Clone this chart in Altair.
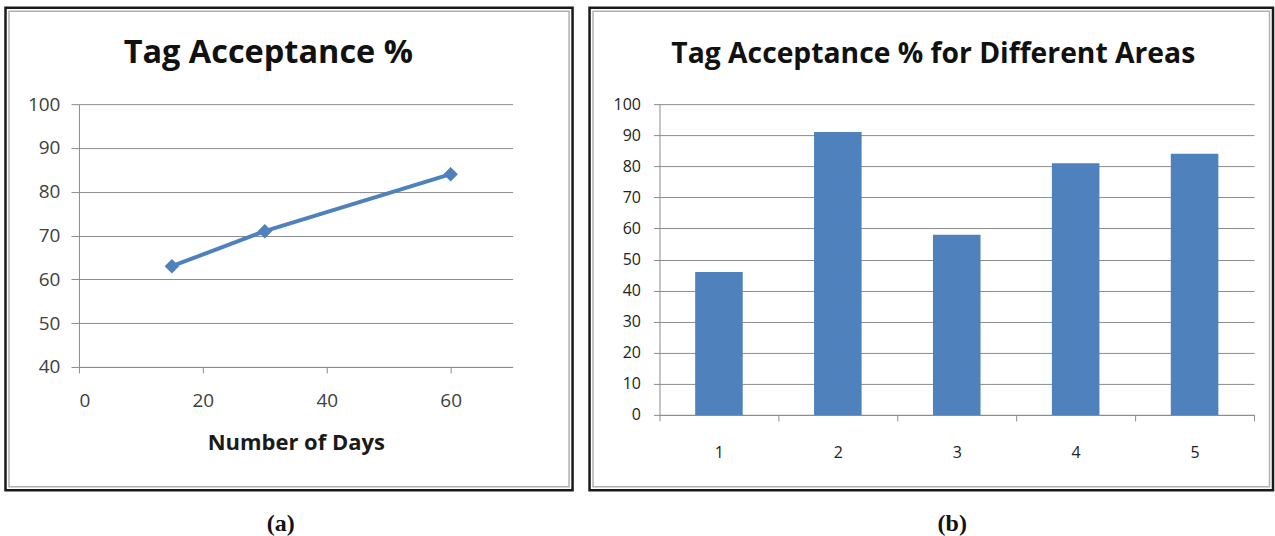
import altair as alt
import pandas as pd

# ---- data ----
days = [15, 30, 60]
acceptance = [63, 71, 84]
areas = ["1", "2", "3", "4", "5"]
area_acceptance = [46, 91, 58, 81, 84]
x_ticks_a = [0, 20, 40, 60]
y_ticks_a = [40, 50, 60, 70, 80, 90, 100]
y_ticks_b = [0, 10, 20, 30, 40, 50, 60, 70, 80, 90, 100]
title_a = "Tag Acceptance %"
title_b = "Tag Acceptance % for Different Areas"
xlabel_a = "Number of Days"
caption_a = "(a)"
caption_b = "(b)"

BLUE = "#4F81BD"
GRID = "#8c8c8c"
FONT = "Open Sans"

df_a = pd.DataFrame({"days": days, "acc": acceptance})
df_b = pd.DataFrame({"area": areas, "acc": area_acceptance})
one = pd.DataFrame({"k": [0]})

W1, H1 = 434, 263
W2, H2 = 595, 311


def frame(x1, x2, y1, y2):
    outer = alt.Chart(one).mark_rect(filled=False, stroke="#1a1a1a", strokeWidth=2.5).encode(
        x=alt.value(x1), x2=alt.value(x2), y=alt.value(y1), y2=alt.value(y2))
    inner = alt.Chart(one).mark_rect(filled=False, stroke="#b0b0b0", strokeWidth=1.5).encode(
        x=alt.value(x1 + 3.5), x2=alt.value(x2 - 3.5), y=alt.value(y1 + 3.5), y2=alt.value(y2 - 3.5))
    return outer + inner


def text_at(txt, x, y, size, font=FONT, weight="bold", color="#111111"):
    return alt.Chart(one).mark_text(
        text=txt, font=font, fontSize=size, fontWeight=weight, color=color,
        align="center", baseline="alphabetic").encode(x=alt.value(x), y=alt.value(y))


# ---- panel (a) ----
xa = alt.X("days:Q", scale=alt.Scale(domain=[0, 70], nice=False, zero=False),
           axis=alt.Axis(values=x_ticks_a, title=xlabel_a, grid=False, domainColor=GRID,
                         tickColor=GRID, tickSize=6, labelFont=FONT, labelFontSize=19,
                         labelColor="#404040", labelPadding=19, titleFont=FONT,
                         titleFontSize=22, titleFontWeight="bold", titleColor="#1a1a1a",
                         titlePadding=22))
ya = alt.Y("acc:Q", scale=alt.Scale(domain=[40, 100], nice=False, zero=False),
           axis=alt.Axis(values=y_ticks_a, title=None, grid=True, gridColor=GRID, gridOpacity=1,
                         domainColor=GRID, tickColor=GRID, tickSize=8, labelFont=FONT,
                         labelFontSize=19, labelColor="#404040", labelPadding=11))

line = alt.Chart(df_a).mark_line(color=BLUE, strokeWidth=4).encode(x=xa, y=ya)
pts = alt.Chart(df_a).mark_point(shape="diamond", filled=True, size=210, color=BLUE,
                                 opacity=1).encode(x="days:Q", y="acc:Q")

panel_a = alt.layer(
    frame(-73.5, 494, -96.5, 386.5),
    line, pts,
    text_at(title_a, 189.5, -41, 32.5),
    text_at(caption_a, 202, 427, 24, font="Liberation Serif"),
).properties(width=W1, height=H1)

# ---- panel (b) ----
xb = alt.X("area:N", scale=alt.Scale(paddingInner=0, paddingOuter=0),
           axis=alt.Axis(title=None, labelAngle=0, grid=False, tickBand="extent",
                         domainColor=GRID, tickColor=GRID, tickSize=6, labelFont=FONT,
                         labelFontSize=16, labelColor="#222222", labelPadding=24))
yb = alt.Y("acc:Q", scale=alt.Scale(domain=[0, 100], nice=False),
           axis=alt.Axis(values=y_ticks_b, title=None, grid=True, gridColor=GRID, gridOpacity=1,
                         domainColor=GRID, tickColor=GRID, tickSize=6, labelFont=FONT,
                         labelFontSize=16, labelColor="#222222", labelPadding=13))

bars = alt.Chart(df_b).mark_bar(color=BLUE, width=alt.RelativeBandSize(0.4)).encode(x=xb, y=yb)

panel_b = alt.layer(
    frame(-70, 614, -96.5, 386.5),
    bars,
    text_at(title_b, 274, -41, 28.3),
    text_at(caption_b, 293, 427, 24, font="Liberation Serif"),
).properties(width=W2, height=H2)

chart = alt.hconcat(panel_a, panel_b, spacing=13).properties(
    padding={"left": 3, "top": 5, "right": 0, "bottom": 0},
    background="white",
).configure_view(stroke="transparent")

chart.save("out.html", embed_options={"renderer": "svg", "actions": False})
